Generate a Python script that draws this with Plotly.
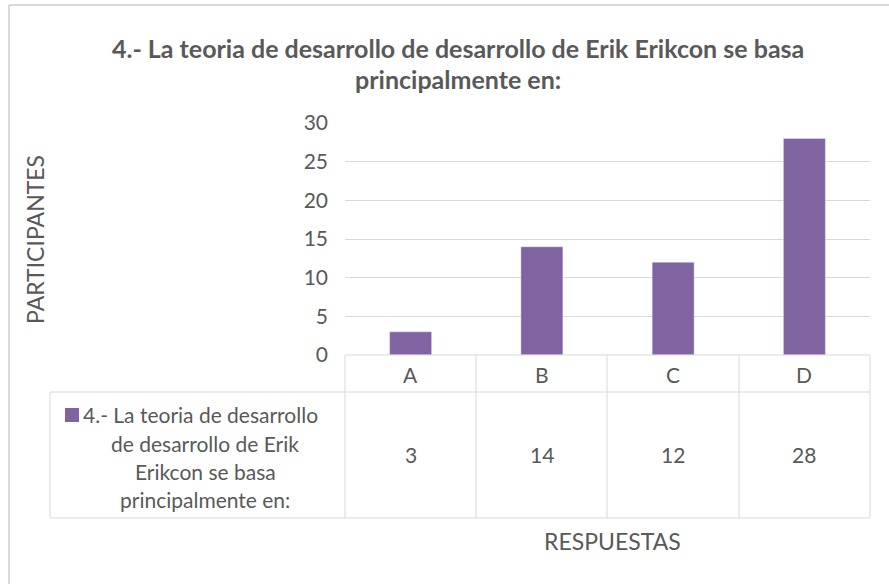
import plotly.graph_objects as go

categories = ["A", "B", "C", "D"]
values = [3, 14, 12, 28]
series_name_lines = ["4.- La teoria de desarrollo", "de desarrollo de Erik", "Erikcon se basa", "principalmente en:"]
title_lines = ["4.- La teoria de desarrollo de desarrollo de Erik Erikcon se basa", "principalmente en:"]
y_title = "PARTICIPANTES"
x_title = "RESPUESTAS"

W, H = 889, 584
L, R, T, B = 345, 870, 123, 355  # plot area pixels
BAR = "#8064A2"
GRID = "#D9D9D9"
TXT = "#595959"
FONT = "Lato"

def px(x):
    return (x - L) / (R - L)

def py(y):
    return (B - y) / (B - T)

fig = go.Figure(go.Bar(x=categories, y=values, marker_color=BAR, width=0.32, showlegend=False,
                       hoverinfo="skip"))

shapes = []
def line(x0, y0, x1, y1, color=GRID, w=1):
    shapes.append(dict(type="line", xref="paper", yref="paper", x0=px(x0), y0=py(y0), x1=px(x1), y1=py(y1),
                       line=dict(color=color, width=w)))

# outer chart border
line(9, 5, 889, 5, color="#D9D9D9", w=2)
line(9, 5, 9, 584, color="#D9D9D9", w=2)

# data table
col_x = [345, 476, 607, 739, 870]
for xv in col_x:
    line(xv, 355, xv, 518)
line(50, 392, 50, 518)
line(345, 355, 870, 355)
line(50, 392, 870, 392)
line(50, 518, 870, 518)

annotations = []
# title
for t, yy in zip(title_lines, [48, 79]):
    annotations.append(dict(text="<b>" + t + "</b>", xref="paper", yref="paper",
                            x=px(458), y=py(yy), xanchor="center", yanchor="middle", showarrow=False,
                            font=dict(family=FONT, size=25, color=TXT)))
# y title
annotations.append(dict(text=y_title, xref="paper", yref="paper", x=px(35), y=py(240), textangle=-90,
                        xanchor="center", yanchor="middle", showarrow=False,
                        font=dict(family=FONT, size=23, color=TXT)))
# x title
annotations.append(dict(text=x_title, xref="paper", yref="paper", x=px(612), y=py(541),
                        xanchor="center", yanchor="middle", showarrow=False,
                        font=dict(family=FONT, size=23, color=TXT)))
# table header and values
for c, v in zip(categories, values):
    annotations.append(dict(text=c, xref="x", yref="paper", x=c, y=py(374), xanchor="center", yanchor="middle",
                            showarrow=False, font=dict(family=FONT, size=21, color=TXT)))
    annotations.append(dict(text=str(v), xref="x", yref="paper", x=c, y=py(455), xanchor="center", yanchor="middle",
                            showarrow=False, font=dict(family=FONT, size=21, color=TXT)))
# legend key + series name
line_y = [414, 443, 471, 499]
for i, (t, yy) in enumerate(zip(series_name_lines, line_y)):
    if i == 0:
        annotations.append(dict(text=t, xref="paper", yref="paper", x=px(81), y=py(yy), xanchor="left",
                                yanchor="middle", showarrow=False, font=dict(family=FONT, size=21, color=TXT)))
    else:
        annotations.append(dict(text=t, xref="paper", yref="paper", x=px(205), y=py(yy), xanchor="center",
                                yanchor="middle", showarrow=False, font=dict(family=FONT, size=21, color=TXT)))
shapes.append(dict(type="rect", xref="paper", yref="paper", x0=px(65), x1=px(79), y0=py(408), y1=py(422),
                   fillcolor=BAR, line=dict(width=0)))

fig.update_layout(
    width=W, height=H,
    margin=dict(l=L, r=W - R, t=T, b=H - B, pad=0),
    paper_bgcolor="white", plot_bgcolor="white",
    xaxis=dict(showticklabels=False, showgrid=False, showline=False, zeroline=False, ticks=""),
    yaxis=dict(range=[0, 30], dtick=5, showgrid=True, gridcolor=GRID, gridwidth=1, zeroline=False,
               showline=False, ticks="", ticklabelstandoff=16,
               tickfont=dict(family=FONT, size=21, color=TXT)),
    shapes=shapes, annotations=annotations,
)

fig.write_html("out.html", post_script="document.body.style.margin='0';",
               config={"displayModeBar": False})
